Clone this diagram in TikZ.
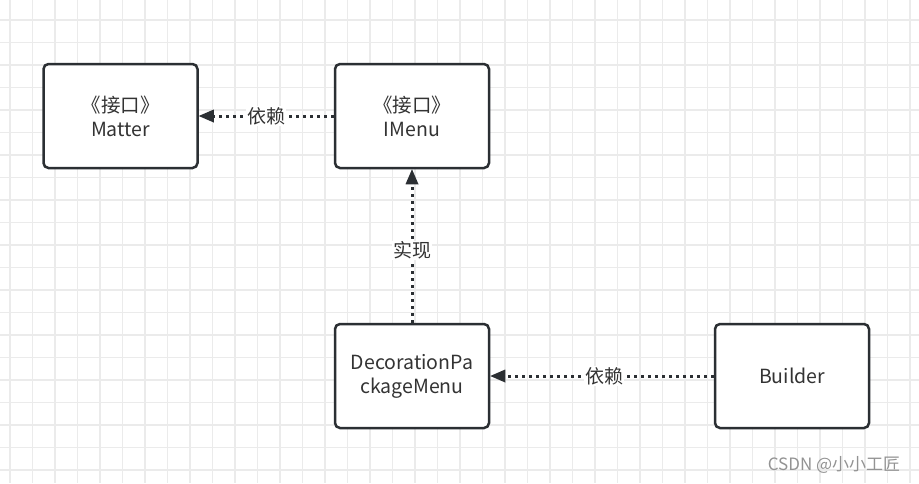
\documentclass[tikz,border=0pt]{standalone}
\usepackage{fontspec}
\setmainfont{Noto Sans CJK SC}
\usetikzlibrary{arrows.meta}
\definecolor{gridc}{HTML}{EBEBEB}
\definecolor{boxc}{HTML}{2B2F33}
\definecolor{textc}{HTML}{333333}
\begin{document}
\begin{tikzpicture}[x=1pt,y=-1pt,
  box/.style={draw=boxc,line width=2.5pt,rounded corners=5pt,fill=white,
    minimum width=154pt,minimum height=104pt,inner sep=0pt,
    text width=150pt,align=center,font=\fontsize{19.5}{24}\selectfont,text=textc},
  dep/.style={draw=boxc,line width=3pt,dash pattern=on 3pt off 4pt,
    -{Triangle[length=15pt,width=13pt,line width=0pt]}},
  lbl/.style={fill=white,inner sep=1pt,font=\fontsize{19}{22}\selectfont,text=textc}]
\useasboundingbox (0,0) rectangle (919,483);
\fill[white] (0,0) rectangle (919,483);
\foreach \x in {0,...,41} {\draw[gridc,line width=1.1pt] (10+22.5*\x,0) -- (10+22.5*\x,483);}
\foreach \y in {0,...,21} {\draw[gridc,line width=1.1pt] (0,20+22.5*\y) -- (919,20+22.5*\y);}
\node[box] (matter) at (120.5,116) {《接口》\\Matter};
\node[box] (imenu) at (412,116) {《接口》\\IMenu};
\node[box] (dec) at (412,376) {DecorationPa\\ckageMenu};
\node[box] (builder) at (792,376) {Builder};
\draw[dep] (imenu.west) -- node[lbl]{依赖} (matter.east);
\draw[dep] (dec.north) -- node[lbl,pos=0.47]{实现} (imenu.south);
\draw[dep] (builder.west) -- node[lbl,pos=0.49]{依赖} (dec.east);
\node[font=\fontsize{17}{20}\selectfont,text=gray!85] (wm) at (834,465) {CSDN @小小工匠};
\end{tikzpicture}
\end{document}
